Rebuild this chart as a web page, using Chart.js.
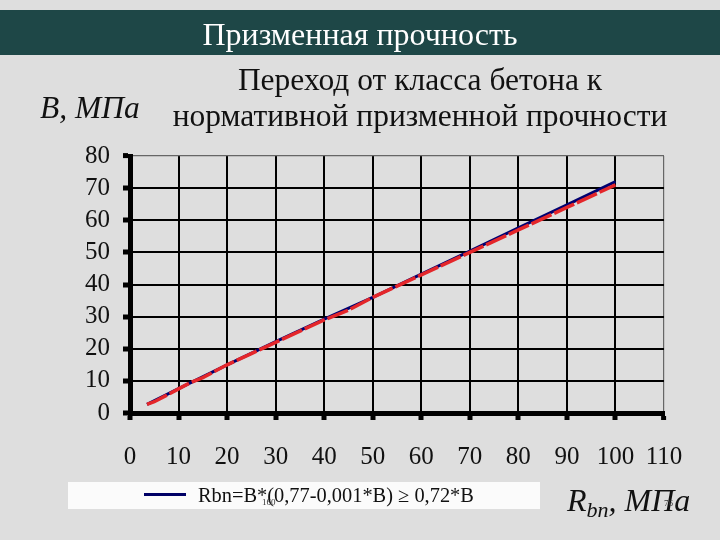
<!DOCTYPE html>
<html><head><meta charset="utf-8">
<script src="https://cdn.jsdelivr.net/npm/chart.js@4.4.0/dist/chart.umd.min.js"></script>
<style>
html,body{margin:0;padding:0;}
body{width:720px;height:540px;position:relative;overflow:hidden;background:#dedede;font-family:"Liberation Serif","Times New Roman",serif;}
#wrap{position:absolute;left:0;top:0;width:720px;height:540px;}
.abs{position:absolute;white-space:nowrap;}
#band{left:0;top:10px;width:720px;height:45px;background:#1e4747;}
#title{left:0;top:10px;width:720px;height:45px;line-height:49px;text-align:center;color:#fff;font-size:32px;}
.sub{left:120px;width:600px;text-align:center;color:#111;font-size:31.5px;}
#ylab{left:40px;top:90px;font-size:31.5px;font-style:italic;color:#111;}
#leg{left:68px;top:482px;width:472px;height:27px;background:#fbfbfb;}
#legline{left:144px;top:493px;width:42px;height:3px;background:#000066;}
#legtxt{left:198px;top:481px;font-size:20.4px;line-height:28px;color:#111;}
#xlab{left:567px;top:482px;font-size:32px;font-style:italic;color:#111;}
#xlab sub{font-size:22px;vertical-align:-6px;}
.tiny{font-size:9px;color:#333;}
</style></head>
<body>
<div id="wrap"><canvas id="c" width="720" height="540"></canvas></div>
<div class="abs" id="band"></div>
<div class="abs" id="title">Призменная прочность</div>
<div class="abs sub" style="top:62px;">Переход от класса бетона к</div>
<div class="abs sub" style="top:98px;">нормативной призменной прочности</div>
<div class="abs" id="ylab">B, МПа</div>
<div class="abs" id="leg"></div>
<div class="abs" id="legline"></div>
<div class="abs" id="legtxt">Rbn=B*(0,77-0,001*B) ≥ 0,72*B</div>
<div class="abs tiny" style="left:262px;top:497px;">160</div>
<div class="abs" id="xlab">R<sub>bn</sub>, МПа</div>
<div class="abs tiny" style="left:664px;top:498px;">76</div>
<script>
// Concrete class B (x) and normative prism strength Rbn (y), MPa
const classB      = [3.5, 10, 20, 30, 40, 50, 60, 70, 80, 90, 100];
const rbnFormula  = [2.7, 7.6, 15.0, 22.2, 29.2, 36.0, 43.2, 50.4, 57.6, 64.8, 72.0];
const classBNorm  = [3.5, 5, 7.5, 10, 12.5, 15, 20, 25, 30, 35, 40, 45, 50, 55, 60, 70, 80, 90, 100];
const rbnNorm     = [2.7, 3.5, 5.5, 7.5, 9.5, 11, 15, 18.5, 22, 25.5, 29, 32, 36, 39.5, 43, 50, 57, 64, 71];
const xTicks = [0,10,20,30,40,50,60,70,80,90,100,110];
const yTicks = [0,10,20,30,40,50,60,70,80];
const legendLabel = 'Rbn=B*(0,77-0,001*B) ≥ 0,72*B';

const pts = (xs, ys) => xs.map((x,i)=>({x:x,y:ys[i]}));
const gridCfg = (maxVal) => ({
  color: (c)=> c.tick && c.tick.value===maxVal ? '#666' : '#000',
  lineWidth: (c)=> c.tick && c.tick.value===maxVal ? 1.2 : 2,
  tickLength: 7, tickWidth: 5, tickColor: '#000', drawTicks: true
});

new Chart(document.getElementById('c'), {
  type: 'scatter',
  data: { datasets: [
    { label: legendLabel, data: pts(classB, rbnFormula), showLine: true,
      borderColor: '#000070', borderWidth: 3, pointRadius: 0, tension: 0, order: 2 },
    { label: 'Rbn', data: pts(classBNorm, rbnNorm), showLine: true,
      borderColor: '#e4262a', borderWidth: 3.5, borderDash: [22,3], pointRadius: 0, tension: 0, order: 1 }
  ]},
  options: {
    responsive: false, animation: false, devicePixelRatio: 1,
    layout: { padding: { top: 156, right: 56, left: 0, bottom: 0 } },
    plugins: { legend: { display: false }, tooltip: { enabled: false } },
    scales: {
      x: { type: 'linear', min: 0, max: 110,
        afterBuildTicks: (s)=>{ s.ticks = xTicks.map(v=>({value:v})); },
        afterFit: (s)=>{ s.height = 127; },
        grid: gridCfg(110),
        border: { display: true, color: '#000', width: 5 },
        ticks: { color: '#111', padding: 22, maxRotation: 0, autoSkip: false, font: { family: 'Liberation Serif', size: 25 } } },
      y: { type: 'linear', min: 0, max: 80,
        afterBuildTicks: (s)=>{ s.ticks = yTicks.map(v=>({value:v})); },
        afterFit: (s)=>{ s.width = 130; },
        grid: gridCfg(80),
        border: { display: true, color: '#000', width: 5 },
        ticks: { color: '#111', padding: 13, autoSkip: false, font: { family: 'Liberation Serif', size: 25 } } }
    }
  }
});
</script>
</body></html>
